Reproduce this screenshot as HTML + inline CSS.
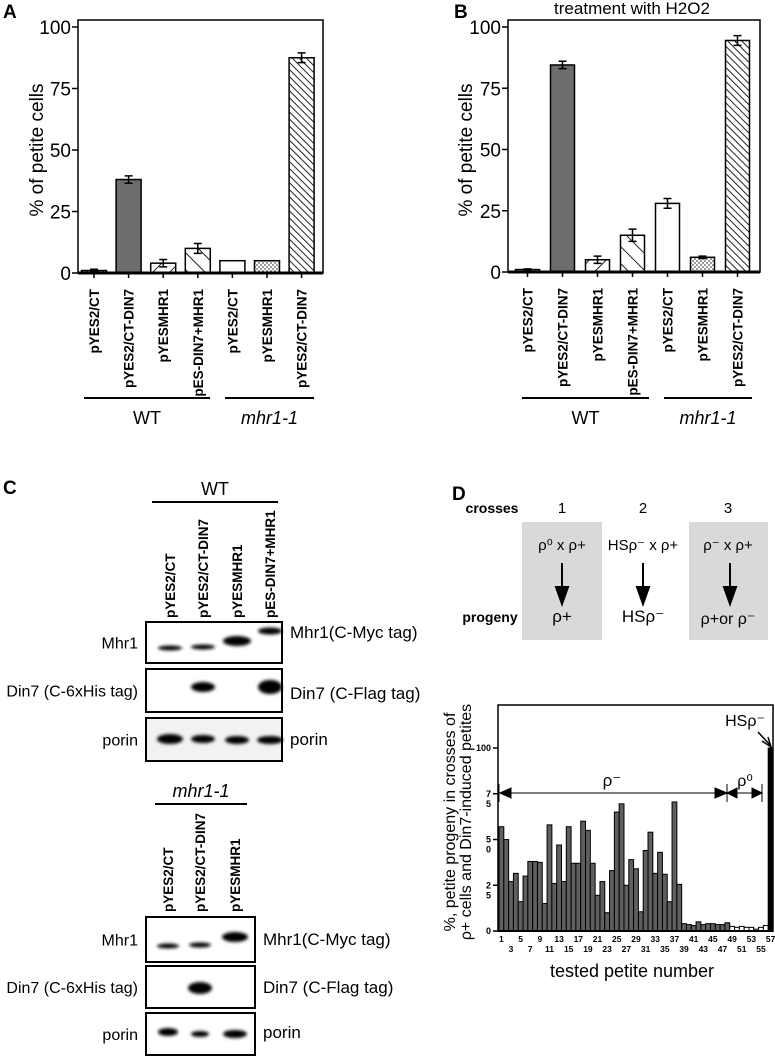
<!DOCTYPE html>
<html><head><meta charset="utf-8">
<style>
html,body{margin:0;padding:0;background:#fff;}
svg{display:block;font-family:"Liberation Sans",Arial,sans-serif;}
</style></head>
<body>
<svg id="fig" width="775" height="1058" viewBox="0 0 775 1058" xmlns="http://www.w3.org/2000/svg">
<defs>
  <pattern id="pDots" width="4" height="4" patternUnits="userSpaceOnUse"><rect width="4" height="4" fill="#fff"/><circle cx="1" cy="1" r="0.9" fill="#555"/><circle cx="3" cy="3" r="0.9" fill="#555"/></pattern>
  <pattern id="pFwd" width="12" height="12" patternUnits="userSpaceOnUse" patternTransform="rotate(45)"><rect width="12" height="12" fill="#fff"/><line x1="0" y1="0" x2="0" y2="12" stroke="#222" stroke-width="2"/></pattern>
  <pattern id="pBack" width="12" height="12" patternUnits="userSpaceOnUse" patternTransform="rotate(-45)"><rect width="12" height="12" fill="#fff"/><line x1="0" y1="0" x2="0" y2="12" stroke="#222" stroke-width="2"/></pattern>
  <pattern id="pDense" width="5" height="5" patternUnits="userSpaceOnUse" patternTransform="rotate(-45)"><rect width="5" height="5" fill="#fff"/><line x1="0" y1="0" x2="0" y2="5" stroke="#222" stroke-width="2"/></pattern>
  <filter id="blur" x="-30%" y="-100%" width="160%" height="300%"><feGaussianBlur stdDeviation="1.6"/></filter>
</defs>
<g id="panelA"></g>
<g id="panelB"></g>
<g id="panelC"></g>
<g id="panelD"></g>
</svg>
<script>
const NS='http://www.w3.org/2000/svg';
function mk(parent,tag,attrs,text){const e=document.createElementNS(NS,tag);for(const k in attrs)e.setAttribute(k,attrs[k]);if(text!==undefined)e.textContent=text;parent.appendChild(e);return e;}

// ---- data ----
const barLabels=['pYES2/CT','pYES2/CT-DIN7','pYESMHR1','pES-DIN7+MHR1','pYES2/CT','pYESMHR1','pYES2/CT-DIN7'];
const barFills=['url(#pDots)','#6d6d6d','url(#pFwd)','url(#pBack)','#fff','url(#pDots)','url(#pDense)'];
const valuesA=[1,38,4,10,5,5,87.5];
const errorsA=[0.5,1.5,1.5,2,0,0,2];
const valuesB=[1,84.5,5,15,28,6,94.5];
const errorsB=[0.3,1.5,1.5,2.5,2,0.5,2];
const yTicks=[0,25,50,75,100];
const petiteValues=[57,50,27,31.5,16,30,38,38,37.5,15,58,26,47,27,57,37,37,60,55,37,19.5,27,10,33,65,69.5,25,39,34,10.5,44,54,31.5,43,31,16,70.5,25.5,4,3.5,3,5,3.5,4,4,3.5,3.5,4.5,2.5,2,2.5,2,2,1,2,3,100];
const petiteKinds=[];for(let i=0;i<57;i++)petiteKinds.push(i<48?'gray':(i<56?'white':'black'));
const dTickVals=[0,25,50,75,100];
const dTickLabels=[['0'],['2','5'],['5','0'],['7','5'],['100']];

function barPanel(g,opt){
  const y=v=>opt.y0-v*(opt.y0-opt.y100)/100;
  const x=i=>opt.c0+i*opt.step;
  const frame=mk(g,'rect',{x:opt.left,y:opt.top,width:opt.right-opt.left,height:opt.y0-opt.top,fill:'none',stroke:'#000','stroke-width':1.5});
  
  yTicks.forEach(t=>{
    const l=mk(g,'line',{x1:opt.left-6,x2:opt.left,y1:y(t),y2:y(t),stroke:'#000','stroke-width':1.5});
    
    const tx=mk(g,'text',{x:opt.left-7,y:y(t)+7,'text-anchor':'end','font-size':19},String(t));
    
  });
  const yt=mk(g,'text',{transform:`translate(${opt.titleX},150) rotate(-90)`,'text-anchor':'middle','font-size':19},'% of petite cells');
  
  opt.values.forEach((v,i)=>{
    const b=mk(g,'rect',{x:x(i)-opt.bw/2,y:y(v),width:opt.bw,height:opt.y0-y(v),fill:barFills[i],stroke:'#000','stroke-width':1.5});
    
    const e=opt.errors[i];
    if(e>0){
      const eb=mk(g,'path',{d:`M${x(i)} ${y(v-e)}V${y(v+e)}M${x(i)-4} ${y(v+e)}H${x(i)+4}M${x(i)-4} ${y(v-e)}H${x(i)+4}`,stroke:'#000','stroke-width':1.5,fill:'none'});
      
    }
    const tk=mk(g,'line',{x1:x(i),x2:x(i),y1:opt.y0,y2:opt.y0+5,stroke:'#000','stroke-width':1.5});
    
    const lb=mk(g,'text',{transform:`translate(${x(i)+5},${opt.y0+16}) rotate(-90)`,'text-anchor':'end','font-size':13.5,'font-weight':'bold'},barLabels[i]);
    
  });
  const ax=mk(g,'line',{x1:opt.left,x2:opt.right,y1:opt.y0,y2:opt.y0,stroke:'#000','stroke-width':3});
  
  const l1=mk(g,'line',{x1:opt.wt[0],x2:opt.wt[1],y1:398,y2:398,stroke:'#000','stroke-width':2});
  
  const l2=mk(g,'line',{x1:opt.mh[0],x2:opt.mh[1],y1:398,y2:398,stroke:'#000','stroke-width':2});
  
  const t1=mk(g,'text',{x:(opt.wt[0]+opt.wt[1])/2,y:424,'text-anchor':'middle','font-size':18},'WT');
  
  const t2=mk(g,'text',{x:(opt.mh[0]+opt.mh[1])/2,y:424,'text-anchor':'middle','font-size':18,'font-style':'italic'},'mhr1-1');
  
  const pl=mk(g,'text',{x:opt.letterX,y:18,'font-size':19,'font-weight':'bold'},opt.letter);
  
}
barPanel(document.getElementById('panelA'),{left:78,right:323,top:20,y0:273,y100:27,c0:94,step:34.6,bw:25,values:valuesA,errors:errorsA,titleX:43,wt:[84,210],mh:[225,314],letter:'A',letterX:3});
barPanel(document.getElementById('panelB'),{left:508,right:760,top:20,y0:272,y100:27,c0:527.5,step:35,bw:24,values:valuesB,errors:errorsB,titleX:472,wt:[522,649],mh:[664,752],letter:'B',letterX:454});
{const t=mk(document.getElementById('panelB'),'text',{x:632,y:14,'text-anchor':'middle','font-size':17},'treatment with H2O2');
}

// ---- Panel C ----
const C=document.getElementById('panelC');
{const t=mk(C,'text',{x:3,y:494,'font-size':19,'font-weight':'bold'},'C');}
function blotSet(opt){
  const g=mk(C,'g',{});
  
  const gl=mk(g,'text',{x:(opt.line[0]+opt.line[1])/2,y:opt.lineY-7,'text-anchor':'middle','font-size':18,'font-style':opt.italic?'italic':'normal'},opt.group);
  
  const ln=mk(g,'line',{x1:opt.line[0],x2:opt.line[1],y1:opt.lineY,y2:opt.lineY,stroke:'#000','stroke-width':2});
  
  opt.lanes.forEach((lab,i)=>{
    const t=mk(g,'text',{transform:`translate(${opt.lx[i]+5},${opt.labBottom}) rotate(-90)`,'font-size':13.5,'font-weight':'bold'},lab);
    
  });
  opt.rows.forEach(r=>{
    const bx=mk(g,'rect',{x:146,y:r.y,width:opt.right-146,height:r.h,fill:r.bg||'#fff',stroke:'#000','stroke-width':2});
    
    r.bands.forEach((b,i)=>{if(!b)return;
      const e=mk(g,'ellipse',{cx:opt.lx[i]+(b.dx||0),cy:r.y+b.cy,rx:b.rx,ry:b.ry,fill:b.c||'#000',filter:'url(#blur)'});
      });
    const lt=mk(g,'text',{x:138,y:r.y+r.h/2+6,'text-anchor':'end','font-size':16},r.left);
    
    const rt=mk(g,'text',{x:opt.right+8,y:r.y+r.ry,'font-size':17},r.right);
    
  });
}
blotSet({name:'wt-blots',group:'WT',line:[152,278],lineY:502,lanes:['pYES2/CT','pYES2/CT-DIN7','pYESMHR1','pES-DIN7+MHR1'],lx:[170,203,237,270],labBottom:618,right:282,
 rows:[
  {key:'mhr1',y:622,h:41,left:'Mhr1',right:'Mhr1(C-Myc tag)',ry:16,bands:[{cy:26,rx:12,ry:2.5},{cy:25,rx:12,ry:2.5},{cy:19,rx:14,ry:5},{cy:9,rx:12,ry:3.5}]},
  {key:'din7',y:669,h:43,left:'Din7 (C-6xHis tag)',right:'Din7 (C-Flag tag)',ry:30,bands:[null,{cy:18,rx:12,ry:5},null,{cy:18,rx:12,ry:7}]},
  {key:'porin',y:718,h:43,left:'porin',right:'porin',ry:27,bg:'#f2f2f2',bands:[{cy:21,rx:13,ry:5},{cy:21,rx:12,ry:4},{cy:22,rx:12,ry:4},{cy:22,rx:13,ry:4}]}
 ]});
blotSet({name:'mhr1-1-blots',group:'mhr1-1',italic:true,line:[155,247],lineY:804,lanes:['pYES2/CT','pYES2/CT-DIN7','pYESMHR1'],lx:[168,200,235],labBottom:912,right:255,
 rows:[
  {key:'mhr1',y:917,h:45,left:'Mhr1',right:'Mhr1(C-Myc tag)',ry:28,bands:[{cy:29,rx:11,ry:2.5},{cy:28,rx:11,ry:2.5},{cy:20,rx:13,ry:5}]},
  {key:'din7',y:966,h:42,left:'Din7 (C-6xHis tag)',right:'Din7 (C-Flag tag)',ry:27,bands:[null,{cy:22,rx:12,ry:6},null]},
  {key:'porin',y:1013,h:42,left:'porin',right:'porin',ry:25,bands:[{cy:19,rx:10,ry:4},{cy:21,rx:9,ry:3},{cy:21,rx:12,ry:4}]}
 ]});

// ---- Panel D ----
const D=document.getElementById('panelD');
{const t=mk(D,'text',{x:452,y:500,'font-size':19,'font-weight':'bold'},'D');}
[[522,602],[689,768]].forEach(b=>{const r=mk(D,'rect',{x:b[0],y:522,width:b[1]-b[0],height:118,fill:'#d9d9d9'});});
function dt(x,y,s,fs,extra){const a=Object.assign({x:x,y:y,'text-anchor':'middle','font-size':fs||15},extra||{});const t=mk(D,'text',a,s);return t;}
let t;
t=dt(492,513,'crosses',14,{'font-weight':'bold'});
t=dt(490,622,'progeny',14,{'font-weight':'bold'});
[['1',562],['2',643],['3',728]].forEach(c=>{t=dt(c[1],513,c[0],15);});
t=dt(562,550,'ρ⁰  x  ρ+',15);
t=dt(643,550,'HSρ⁻ x ρ+',15);
t=dt(728,550,'ρ⁻ x ρ+',15);
[562,643,730].forEach(x=>{const a=mk(D,'path',{d:`M${x} 563V590M${x-6} 587L${x} 604L${x+6} 587Z`,stroke:'#000','stroke-width':2,fill:'#000'});});
t=dt(562,622,'ρ+',17);
t=dt(643,622,'HSρ⁻',17);
t=dt(728,624,'ρ+or ρ⁻',16);

// chart
const dLeft=498,dRight=773,dTop=705,dY0=931,dY100=748;
const dy=v=>dY0-v*(dY0-dY100)/100;
const bw=(dRight-dLeft-1)/57;
const dx=i=>dLeft+1+i*bw;
t=mk(D,'rect',{x:dLeft,y:dTop,width:dRight-dLeft,height:dY0-dTop,fill:'none',stroke:'#000','stroke-width':1.5});

petiteValues.forEach((v,i)=>{
  const k=petiteKinds[i];
  const b=mk(D,'rect',{x:dx(i),y:dy(v),width:bw,height:dY0-dy(v),fill:k==='gray'?'#5f5f5f':(k==='white'?'#fff':'#000'),stroke:'#000','stroke-width':1});
  
});
dTickVals.forEach((v,i)=>{
  const l=mk(D,'line',{x1:dLeft-5,x2:dLeft,y1:dy(v),y2:dy(v),stroke:'#000','stroke-width':1.5});
  
  dTickLabels[i].forEach((s,j)=>{
    const tx=mk(D,'text',{x:dLeft-7,y:dy(v)+3+j*10,'text-anchor':'end','font-size':9,'font-weight':'bold'},s);
    
  });
});
{const ax=mk(D,'line',{x1:dLeft,x2:dRight,y1:dY0,y2:dY0,stroke:'#000','stroke-width':2});}
for(let n=1;n<=57;n+=2){
  const i=n-1;const row=((n-1)/2)%2;
  const tx=mk(D,'text',{x:dx(i)+bw/2,y:942+row*10,'text-anchor':'middle','font-size':8.5,'font-weight':'bold'},String(n));
  
}
t=dt(632,977,'tested petite number',18);
t=mk(D,'text',{transform:'translate(455,822) rotate(-90)','text-anchor':'middle','font-size':16},'%, petite progeny in crosses of');
t=mk(D,'text',{transform:'translate(471,822) rotate(-90)','text-anchor':'middle','font-size':16},'ρ+ cells and Din7-induced petites');
// rho annotations
const aY=793;
t=mk(D,'path',{d:`M500 ${aY}H727M500 ${aY}l11 -5v10zM727 ${aY}l-12 -5v10zM727 ${aY-9}v18M727 ${aY}h35M727 ${aY}l10 -5v10zM762 ${aY}l-10 -5v10zM762 ${aY-9}v18M499 ${aY-9}v18`,stroke:'#000','stroke-width':1,fill:'#000'});

t=dt(612,786,'ρ⁻',17);
t=dt(745,786,'ρ⁰',16);
t=dt(745,726,'HSρ⁻',16);
t=mk(D,'path',{d:'M758 732L771 746M762 741l9 6l-3 -10',stroke:'#000','stroke-width':1.5,fill:'none'});
</script>
</body></html>
